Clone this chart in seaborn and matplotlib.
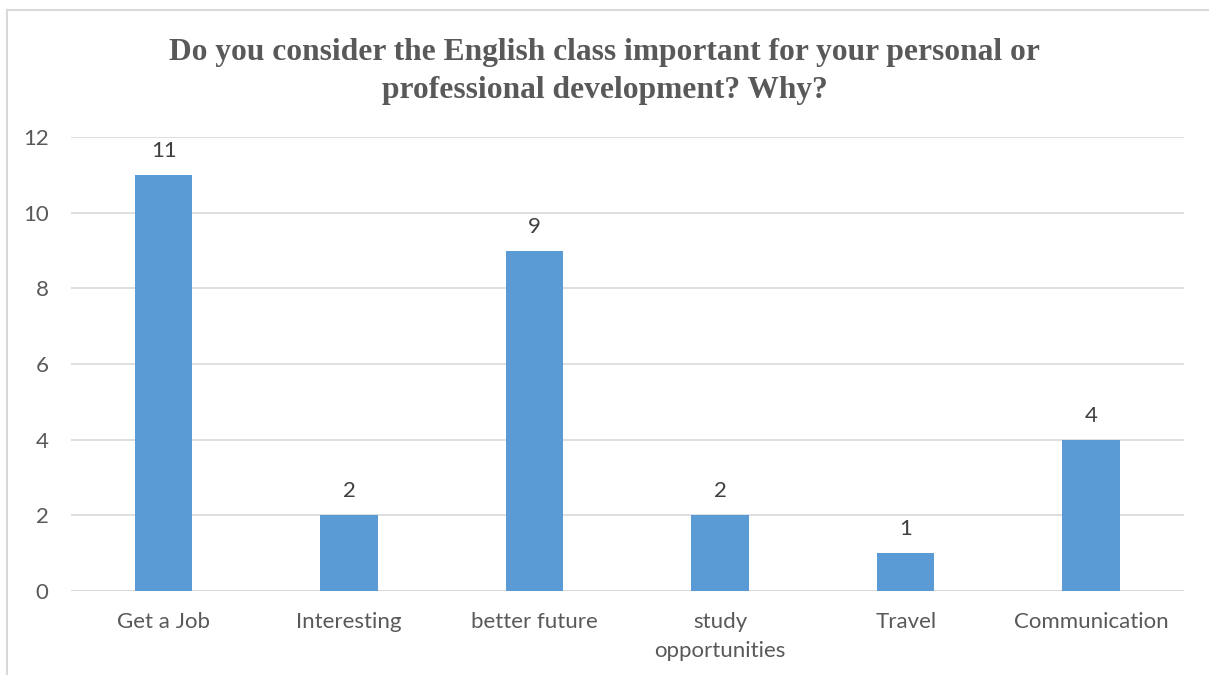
import matplotlib
matplotlib.use("Agg")
import matplotlib.pyplot as plt
from matplotlib.patches import Rectangle
import seaborn as sns
import pandas as pd

categories = ["Get a Job", "Interesting", "better future", "study\nopportunities", "Travel", "Communication"]
counts = [11, 2, 9, 2, 1, 4]
y_ticks = [0, 2, 4, 6, 8, 10, 12]
title = "Do you consider the English class important for your personal or\nprofessional development? Why?"

sns.set_theme(style="white")
plt.rcParams["font.family"] = ["Lato", "DejaVu Sans"]

df = pd.DataFrame({"reason": categories, "count": counts})

fig = plt.figure(figsize=(12.09, 6.75), dpi=100)
ax = fig.add_axes([0.0587, 0.1244, 0.9206, 0.6726])

sns.barplot(data=df, x="reason", y="count", color="#5B9BD5", width=0.31,
            saturation=1, linewidth=0, ax=ax, zorder=3)

ax.set_ylim(0, 12)
ax.set_yticks(y_ticks)
ax.set_xlim(-0.5, len(categories) - 0.5)
ax.yaxis.grid(True, color="#D9D9D9", linewidth=1.2, zorder=0)
ax.xaxis.grid(False)
for side in ["top", "right", "left", "bottom"]:
    ax.spines[side].set_visible(False)
ax.axhline(0, color="#D9D9D9", linewidth=1.2, zorder=2)
ax.set_xlabel("")
ax.set_ylabel("")
ax.tick_params(axis="y", length=0, pad=16, labelsize=16, labelcolor="#595959")
ax.tick_params(axis="x", length=0, pad=15, labelsize=16, labelcolor="#595959")
for lbl in ax.get_xticklabels():
    lbl.set_linespacing(1.55)
for lbl in ax.get_yticklabels():
    lbl.set_horizontalalignment("right")

for container in ax.containers:
    ax.bar_label(container, labels=[str(v) for v in counts], padding=10,
                 fontsize=16, color="#404040")

fig.text(0.5, 0.894, title, ha="center", va="center", fontsize=22.7,
         fontweight="bold", color="#595959", family="Liberation Serif",
         linespacing=1.4)

# chart frame
fig.patches.append(Rectangle((7 / 1209, -0.1), 1.2, 1 - 10 / 675 + 0.1,
                             transform=fig.transFigure, fill=False,
                             edgecolor="#D9D9D9", linewidth=1.5))

fig.savefig("out.png", dpi=100, facecolor="white")
